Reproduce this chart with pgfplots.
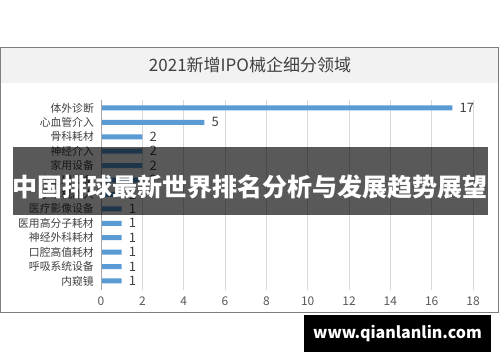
\documentclass[border=0pt]{standalone}
\usepackage{pgfplots}
\pgfplotsset{compat=1.18}
\usepackage{fontspec}
\setmainfont{Noto Sans CJK SC}
\definecolor{barblue}{HTML}{5B9BD5}
\definecolor{txt}{HTML}{404040}
\definecolor{ticktxt}{HTML}{595959}
\definecolor{gridc}{HTML}{D9D9D9}
\definecolor{band}{HTML}{F2F2F2}
\definecolor{framec}{HTML}{7F7F7F}
\begin{document}
\begin{tikzpicture}[x=1pt,y=1pt]
\fill[white] (0,0) rectangle (500,-362);
\fill[band] (1,-48) rectangle (498,-83);
\draw[framec, line width=1pt] (0.5,-47.5) rectangle (498.5,-312.5);
\node[txt, font=\fontsize{17}{17}\selectfont] at (250,-65) {2021新增IPO械企细分领域};
\begin{axis}[
  at={(101pt,-100pt)}, anchor=north west,
  scale only axis, width=372pt, height=189.6pt,
  xmin=0, xmax=18, ymin=-0.55, ymax=12.6,
  y dir=reverse,
  xbar, bar width=5pt,
  axis line style={draw=none},
  xmajorgrids, grid style={gridc, line width=0.8pt},
  major tick length=0pt,
  xtick={0,2,...,18},
  ytick={0,...,12},
  yticklabels={体外诊断,心血管介入,骨科耗材,神经介入,家用设备,电生理设备,手术机器人,医疗影像设备,医用高分子耗材,神经外科耗材,口腔高值耗材,呼吸系统设备,内窥镜},
  /pgf/number format/assume math mode=true,
  xticklabel style={inner sep=0pt, yshift=-7pt, anchor=north, text=ticktxt, font=\fontsize{12}{12}\selectfont},
  yticklabel style={inner sep=0pt, xshift=-7pt, anchor=east, text=txt, font=\fontsize{10.8}{10.8}\selectfont},
  nodes near coords,
  nodes near coords style={anchor=west, inner sep=0pt, xshift=7pt, text=txt, font=\fontsize{13}{13}\selectfont},
  clip=false,
]
\addplot[fill=barblue, draw=none] coordinates {
(17,0) (5,1) (2,2) (2,3) (2,4) (2,5) (1,6) (1,7) (1,8) (1,9) (1,10) (1,11) (1,12)
};
\draw[gray!70, line width=0.8pt] (axis cs:0,-0.55) -- (axis cs:0,12.6);
\end{axis}
\fill[black, opacity=0.65] (13,-147) rectangle (488,-215);
\node[white, font=\bfseries\fontsize{25}{25}\selectfont] at (250,-187) {中国排球最新世界排名分析与发展趋势展望};
\fill[black] (304,-315) rectangle (491,-352);
\node[white, font=\bfseries\fontsize{16}{16}\selectfont] at (397.5,-333) {www.qianlanlin.com};
\end{tikzpicture}
\end{document}
